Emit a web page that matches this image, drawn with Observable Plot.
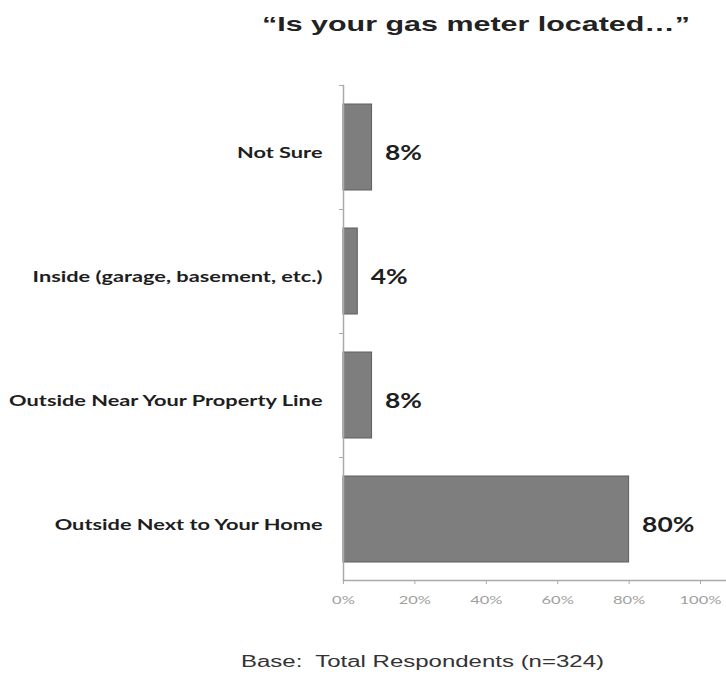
<!DOCTYPE html>
<html>
<head>
<meta charset="utf-8">
<script src="https://cdn.jsdelivr.net/npm/d3@7"></script>
<script src="https://cdn.jsdelivr.net/npm/@observablehq/plot@0.6"></script>
<style>
  body { margin: 0; background: #fff; width: 726px; overflow: hidden; }
  #title { height: 55px; box-sizing: border-box; padding-top: 12px; padding-left: 262px; white-space: nowrap; }
  #title span { display: inline-block; transform-origin: left center;
    font-family: "Liberation Sans", Arial, sans-serif; font-weight: bold; font-size: 21px; color: #222; }
  #caption { padding-left: 241px; padding-top: 28px; white-space: nowrap; }
  #caption span { display: inline-block; transform-origin: left center;
    font-family: "Liberation Sans", Arial, sans-serif; font-size: 16px; color: #333; }
</style>
</head>
<body>
<div id="title"><span>“Is your gas meter located…”</span></div>
<div id="chart"></div>
<div id="caption"><span>Base:&nbsp; Total Respondents (n=324)</span></div>
<script>
const categories = ["Not Sure", "Inside (garage, basement, etc.)", "Outside Near Your Property Line", "Outside Next to Your Home"];
const values = [8, 4, 8, 80];
const xTicks = [0, 20, 40, 60, 80, 100];

const data = categories.map((c, i) => ({category: c, value: values[i]}));

const chart = Plot.plot({
  width: 726,
  height: 570,
  marginTop: 30,
  marginBottom: 45,
  marginLeft: 343,
  marginRight: 26,
  style: {fontFamily: "Lato, 'Open Sans', sans-serif", background: "#fff"},
  x: {domain: [0, 100], ticks: xTicks, tickFormat: d => d + "%"},
  y: {domain: categories, paddingInner: 0.31, paddingOuter: 0.14},
  marks: [
    Plot.barX(data, {x: "value", y: "category", fill: "#7e7e7e", stroke: "#5e5e5e", strokeWidth: 1}),
    Plot.text(data, {x: "value", y: "category", text: d => d.value + "%", textAnchor: "start", dx: 13, dy: 6,
      fontSize: 20, fontWeight: "bold", fill: "#1e1e1e", className: "vlabel"}),
    Plot.ruleY(categories, {y: d => d, x1: 0, x2: 0, insetLeft: -4, dy: -62, stroke: "#aaa"}),
    Plot.frame({anchor: "left", stroke: "#aaa", strokeWidth: 1.5}),
    Plot.frame({anchor: "bottom", stroke: "#aaa", strokeWidth: 1.5, insetRight: -26}),
    Plot.axisX({ticks: xTicks, tickFormat: d => d + "%", tickSize: 4, tickPadding: 12, stroke: "#aaa",
      fontSize: 11, fill: "#a0a0a0", label: null, className: "xax"}),
    Plot.axisY({tickSize: 0, tickPadding: 21, fontSize: 16, fontWeight: "bold", label: null, fill: "#1e1e1e",
      dy: 5, className: "yax"})
  ]
});
document.getElementById("chart").append(chart);

function stretchSvg(selector, factor) {
  chart.querySelectorAll(selector).forEach(t => {
    const len = t.getComputedTextLength();
    t.setAttribute("textLength", len * factor);
    t.setAttribute("lengthAdjust", "spacingAndGlyphs");
  });
}
stretchSvg(".yax text", 1.36);
stretchSvg(".vlabel text", 1.32);
stretchSvg(".xax text", 1.5);

function stretchHtml(sel, target) {
  const s = document.querySelector(sel);
  const w = s.getBoundingClientRect().width;
  s.style.transform = `scaleX(${target / w})`;
}
stretchHtml("#title span", 428);
stretchHtml("#caption span", 363);
</script>
</body>
</html>
